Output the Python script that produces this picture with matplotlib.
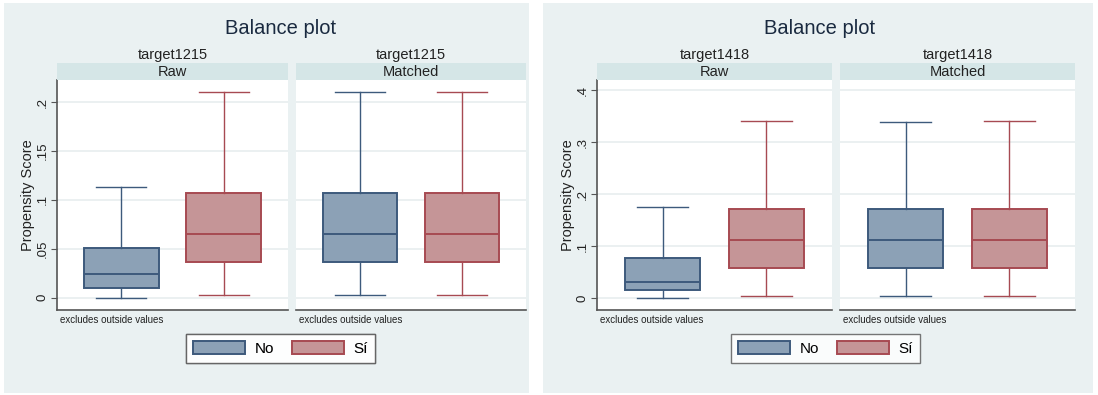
import matplotlib
matplotlib.use("Agg")
import matplotlib.pyplot as plt
from matplotlib.patches import Rectangle, Patch

plt.rcParams["font.family"] = ["Liberation Sans", "DejaVu Sans"]

W, H = 1098, 395

groups = ["No", "Sí"]
strips = ["Raw", "Matched"]
note = "excludes outside values"

# box stats: (whisker low, q1, median, q3, whisker high)
t1215_raw_no = [0.0, 0.0100, 0.0236, 0.0505, 0.1135]
t1215_raw_si = [0.0030, 0.0363, 0.0652, 0.1072, 0.2110]
t1215_match_no = [0.0030, 0.0363, 0.0652, 0.1072, 0.2110]
t1215_match_si = [0.0030, 0.0363, 0.0652, 0.1072, 0.2110]

t1418_raw_no = [0.0, 0.0149, 0.0315, 0.0768, 0.1747]
t1418_raw_si = [0.0045, 0.0586, 0.1120, 0.1708, 0.3410]
t1418_match_no = [0.0045, 0.0586, 0.1120, 0.1708, 0.3390]
t1418_match_si = [0.0045, 0.0586, 0.1120, 0.1708, 0.3410]

ticks_1215 = [0, 0.05, 0.1, 0.15, 0.2]
ticklabels_1215 = ["0", ".05", ".1", ".15", ".2"]
ticks_1418 = [0, 0.1, 0.2, 0.3, 0.4]
ticklabels_1418 = ["0", ".1", ".2", ".3", ".4"]

bg = "#eaf1f2"
strip_col = "#d5e6e7"
grid_col = "#e9eff0"
axis_col = "#555555"
text_col = "#222222"
fills = ["#8ca1b6", "#c59597"]
edges = ["#3d5a7c", "#a74a52"]


def rect(x0, y0, x1, y1):
    return [x0 / W, 1 - y1 / H, (x1 - x0) / W, (y1 - y0) / H]


def stats(vals, label):
    lo, q1, med, q3, hi = vals
    return dict(whislo=lo, q1=q1, med=med, q3=q3, whishi=hi, label=label, fliers=[])


fig = plt.figure(figsize=(W / 100, H / 100), dpi=100)
fig.patch.set_facecolor("white")


def draw_panel(px0, px1, sub_x, title, title_cx, legend_cx, data, ylim, ticks, ticklabels):
    fig.patches.append(Rectangle((px0 / W, 1 - 393 / H), (px1 - px0) / W, 390 / H,
                                 transform=fig.transFigure, facecolor=bg,
                                 edgecolor="none", zorder=-10))
    fig.text(title_cx / W, 1 - 28 / H, "Balance plot", ha="center", va="center",
             fontsize=14.5, color="#1a2a40")
    for i, (x0, x1) in enumerate(sub_x):
        ax = fig.add_axes(rect(x0, 80, x1, 310))
        ax.set_facecolor("white")
        pair = data[i]
        for j in range(2):
            ax.bxp([stats(pair[j], groups[j])], positions=[j + 1], widths=0.73,
                   capwidths=0.49, patch_artist=True, showfliers=False,
                   boxprops=dict(facecolor=fills[j], edgecolor=edges[j], linewidth=1.4),
                   medianprops=dict(color=edges[j], linewidth=1.4),
                   whiskerprops=dict(color=edges[j], linewidth=1.0),
                   capprops=dict(color=edges[j], linewidth=1.0))
        for s in ax.spines.values():
            s.set_visible(False)
        ax.spines["bottom"].set_visible(True)
        ax.spines["bottom"].set_color(axis_col)
        ax.spines["bottom"].set_linewidth(1.2)
        ax.set_ylim(*ylim)
        ax.set_xlim(0.37, 2.63)
        ax.set_yticks(ticks)
        ax.yaxis.grid(True, color=grid_col, linewidth=1.3)
        ax.set_axisbelow(True)
        ax.set_xticks([])
        if i == 0:
            ax.spines["left"].set_visible(True)
            ax.spines["left"].set_color(axis_col)
            ax.spines["left"].set_linewidth(1.2)
            ax.set_yticklabels(ticklabels, rotation=90, va="center", fontsize=9.5, color=text_col)
            ax.tick_params(axis="y", length=4, color=axis_col, pad=2)
            ax.set_ylabel("Propensity Score", fontsize=10.5, color=text_col, labelpad=1)
        else:
            ax.tick_params(axis="y", length=0, labelleft=False)
        sax = fig.add_axes(rect(x0, 63, x1, 80))
        sax.set_facecolor(strip_col)
        sax.set_xticks([])
        sax.set_yticks([])
        for s in sax.spines.values():
            s.set_visible(False)
        sax.text(0.5, 0.5, strips[i], ha="center", va="center", fontsize=10.5,
                 color=text_col, transform=sax.transAxes)
        fig.text((x0 + x1) / 2 / W, 1 - 55 / H, title, ha="center", va="center",
                 fontsize=10.5, color=text_col)
        fig.text((x0 + 3) / W, 1 - 320 / H, note, ha="left", va="center",
                 fontsize=7, color=text_col)
    handles = [Patch(facecolor=fills[k], edgecolor=edges[k], linewidth=1.4) for k in range(2)]
    leg = fig.legend(handles, groups, loc="center", bbox_to_anchor=(legend_cx / W, 1 - 348.5 / H),
                     ncol=2, frameon=True, fancybox=False, fontsize=11,
                     handlelength=3.4, handleheight=0.9, columnspacing=1.2,
                     handletextpad=0.6, borderpad=0.45, borderaxespad=0)
    leg.get_frame().set_edgecolor(axis_col)
    leg.get_frame().set_linewidth(1.0)
    return leg


leg1 = draw_panel(4, 529, [(57, 288), (296, 526)], "target1215", 281, 280.5,
                  [(t1215_raw_no, t1215_raw_si), (t1215_match_no, t1215_match_si)],
                  (-0.0128, 0.2229), ticks_1215, ticklabels_1215)
leg2 = draw_panel(543, 1093, [(597, 832), (840, 1075)], "target1418", 820, 825.5,
                  [(t1418_raw_no, t1418_raw_si), (t1418_match_no, t1418_match_si)],
                  (-0.0231, 0.4202), ticks_1418, ticklabels_1418)
fig.add_artist(leg1)

fig.savefig("out.png", dpi=100, facecolor=fig.get_facecolor())
